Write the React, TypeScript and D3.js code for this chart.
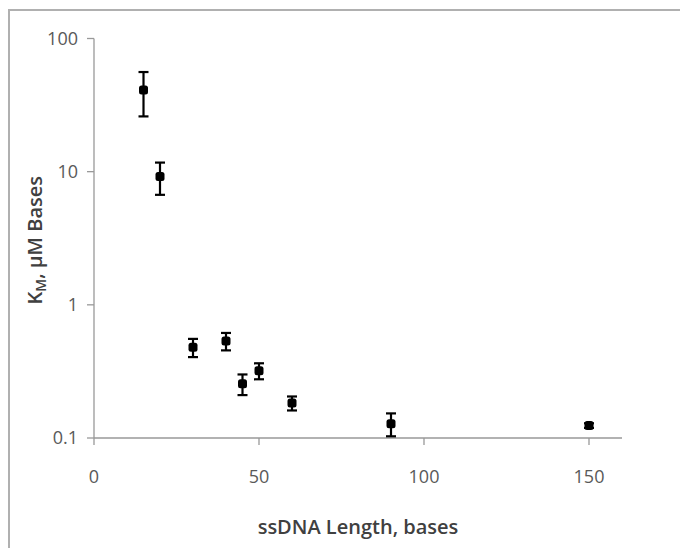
import React from "react";
import * as d3 from "d3";

// ssDNA length (bases), KM (µM bases) and symmetric error
const lengths = [15, 20, 30, 40, 45, 50, 60, 90, 150];
const kmValues = [41, 9.2, 0.48, 0.535, 0.255, 0.32, 0.183, 0.128, 0.124];
const kmErrors = [15, 2.5, 0.075, 0.08, 0.045, 0.044, 0.022, 0.025, 0.005];

const xTicks = [0, 50, 100, 150];
const yTicks = [0.1, 1, 10, 100];
const yTickLabels = ["0.1", "1", "10", "100"];

const W = 680;
const H = 548;
const M = { left: 94, right: 58, top: 38.5, bottom: 110 };

export default function App() {
  const x = d3.scaleLinear().domain([0, 160]).range([M.left, W - M.right]);
  const y = d3.scaleLog().domain([0.1, 100]).range([H - M.bottom, M.top]);

  const axisColor = "#999999";
  const textColor = "#595959";
  const font = "'Open Sans', 'Noto Sans', sans-serif";

  const x0 = x(0);
  const y0 = y(0.1);

  return (
    <svg
      width={W}
      height={H}
      style={{ position: "absolute", left: 0, top: 0, background: "#fff" }}
    >
      {/* chart area frame */}
      <rect x={9} y={10} width={720} height={600} fill="#fff" stroke="#b0b0b0" strokeWidth={2} />

      {/* y axis */}
      <line x1={x0} x2={x0} y1={y(100)} y2={y0} stroke={axisColor} strokeWidth={1.3} />
      {yTicks.map((t, i) => (
        <g key={"y" + t}>
          <line x1={x0 - 7} x2={x0} y1={y(t)} y2={y(t)} stroke={axisColor} strokeWidth={1.3} />
          <text
            x={x0 - 16}
            y={y(t)}
            dy="0.36em"
            textAnchor="end"
            fontFamily={font}
            fontSize={18}
            fill={textColor}
          >
            {yTickLabels[i]}
          </text>
        </g>
      ))}

      {/* x axis */}
      <line x1={x0} x2={x(160)} y1={y0} y2={y0} stroke={axisColor} strokeWidth={1.3} />
      {xTicks.map((t) => (
        <g key={"x" + t}>
          <line x1={x(t)} x2={x(t)} y1={y0} y2={y0 + 7} stroke={axisColor} strokeWidth={1.3} />
          <text
            x={x(t)}
            y={y0 + 45}
            textAnchor="middle"
            fontFamily={font}
            fontSize={18}
            fill={textColor}
          >
            {t}
          </text>
        </g>
      ))}

      {/* axis titles */}
      <text
        x={(x0 + x(160)) / 2}
        y={y0 + 96}
        textAnchor="middle"
        fontFamily={font}
        fontSize={20}
        fontWeight={600}
        fill="#404040"
      >
        ssDNA Length, bases
      </text>
      <text
        transform={`translate(42, ${(y(100) + y0) / 2 + 2}) rotate(-90)`}
        textAnchor="middle"
        fontFamily={font}
        fontSize={20}
        fontWeight={600}
        fill="#404040"
      >
        K
        <tspan fontSize={14} dy={4}>M</tspan>
        <tspan dy={-4}>, µM Bases</tspan>
      </text>

      {/* error bars and markers */}
      {lengths.map((L, i) => {
        const cx = x(L);
        const v = kmValues[i];
        const e = kmErrors[i];
        const yt = y(v + e);
        const yb = y(Math.max(v - e, 0.1001));
        return (
          <g key={"p" + L}>
            <line x1={cx} x2={cx} y1={yt} y2={yb} stroke="#000" strokeWidth={2.2} />
            <line x1={cx - 5} x2={cx + 5} y1={yt} y2={yt} stroke="#000" strokeWidth={2.2} />
            <line x1={cx - 5} x2={cx + 5} y1={yb} y2={yb} stroke="#000" strokeWidth={2.2} />
            <rect
              x={cx - 4.5}
              y={y(v) - 4.5}
              width={9}
              height={9}
              rx={2.5}
              fill="#000"
            />
          </g>
        );
      })}
    </svg>
  );
}
